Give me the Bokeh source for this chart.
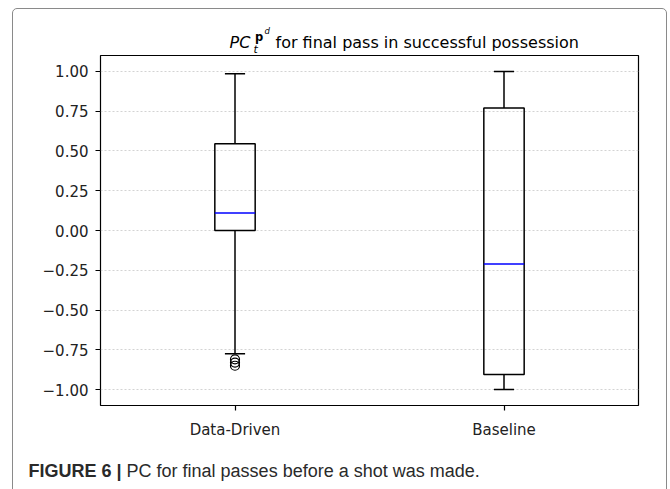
from bokeh.plotting import figure
from bokeh.models import FixedTicker, Range1d, Div
from bokeh.layouts import column
from bokeh.embed import file_html
from bokeh.resources import INLINE

# Box-plot summary for each method
categories = ["Data-Driven", "Baseline"]
positions = [1, 2]
q1 = [0.0, -0.905]
medians = [0.11, -0.21]
q3 = [0.545, 0.77]
whisker_low = [-0.775, -1.0]
whisker_high = [0.985, 1.0]

# Points beyond the whiskers
outlier_pos = [1, 1, 1]
outlier_values = [-0.81, -0.83, -0.85]

y_ticks = [-1.0, -0.75, -0.5, -0.25, 0.0, 0.25, 0.5, 0.75, 1.0]
y_tick_labels = ["\u22121.00", "\u22120.75", "\u22120.50", "\u22120.25",
                 "0.00", "0.25", "0.50", "0.75", "1.00"]

title_text = "for final pass in successful possession"
caption_head = "FIGURE 6 |"
caption_text = "PC for final passes before a shot was made."

BOX_W = 0.15
CAP_W = 0.075
INNER_W = 653

p = figure(width=INNER_W, height=392, output_backend="svg", toolbar_location=None,
           x_range=Range1d(0.5, 2.5), y_range=Range1d(-1.1, 1.1),
           min_border_left=87, min_border_right=28,
           min_border_top=2, min_border_bottom=40, margin=0)
p.background_fill_color = "white"
p.border_fill_color = "white"
p.outline_line_color = "black"
p.outline_line_width = 1.2
p.outline_line_alpha = 1.0

# axes
p.xaxis.ticker = FixedTicker(ticks=positions)
p.xaxis.major_label_overrides = {pos: name for pos, name in zip(positions, categories)}
p.yaxis.ticker = FixedTicker(ticks=y_ticks)
p.yaxis.major_label_overrides = {t: s for t, s in zip(y_ticks, y_tick_labels)}
for ax in (p.xaxis[0], p.yaxis[0]):
    ax.axis_line_color = None
    ax.minor_tick_line_color = None
    ax.major_tick_in = 0
    ax.major_tick_out = 5
    ax.major_tick_line_color = "black"
    ax.major_tick_line_width = 1.2
    ax.major_label_text_font = "DejaVu Sans"
    ax.major_label_text_font_size = "15px"
    ax.major_label_text_color = "#222222"
p.yaxis.major_label_standoff = 7
p.xaxis.major_label_standoff = 10

p.xgrid.visible = False
p.ygrid.grid_line_color = "#c8c8c8"
p.ygrid.grid_line_dash = "2 2"
p.ygrid.grid_line_width = 0.8

lefts = [x - BOX_W / 2 for x in positions]
rights = [x + BOX_W / 2 for x in positions]
cap_l = [x - CAP_W / 2 for x in positions]
cap_r = [x + CAP_W / 2 for x in positions]

# whiskers
p.segment(x0=positions, y0=q3, x1=positions, y1=whisker_high, line_color="black", line_width=1.5)
p.segment(x0=positions, y0=q1, x1=positions, y1=whisker_low, line_color="black", line_width=1.5)
# caps
p.segment(x0=cap_l, y0=whisker_high, x1=cap_r, y1=whisker_high, line_color="black", line_width=1.5)
p.segment(x0=cap_l, y0=whisker_low, x1=cap_r, y1=whisker_low, line_color="black", line_width=1.5)
# boxes
p.quad(left=lefts, right=rights, bottom=q1, top=q3, fill_color=None,
       line_color="black", line_width=1.5)
# medians
p.segment(x0=lefts, y0=medians, x1=rights, y1=medians, line_color="#0000ff", line_width=1.5)
# outliers
p.scatter(x=outlier_pos, y=outlier_values, marker="circle", size=9,
          fill_color=None, line_color="black", line_width=1.2)


def span(text, left, baseline, size, extra="", font="DejaVu Sans"):
    # absolutely placed text; with line-height 1 the baseline sits ~0.846em below the top
    top = baseline - 0.846 * size
    return (f'<span style="position:absolute;left:{left}px;top:{top:.1f}px;'
            f"font-family:'{font}';font-size:{size}px;line-height:1;white-space:nowrap;"
            f'color:#000;{extra}">{text}</span>')


# title: PC_t^{p^d} for final pass in successful possession
title_html = ('<div style="position:relative;width:653px;height:44px;">'
              + span("PC", 216.5, 39, 16, "font-style:italic;")
              + span("t", 240.5, 44, 11, "font-style:italic;")
              + span("p", 242.0, 32.5, 11.5, "font-weight:bold;")
              + span("d", 251.5, 25.5, 8.5, "font-style:italic;")
              + span(title_text, 262.5, 39, 16)
              + '</div>')
title_div = Div(text=title_html, width=INNER_W, height=44, margin=0)

caption_html = ('<div style="position:relative;width:653px;height:60px;">'
                + span(f"<b>{caption_head}</b> {caption_text}", 15.5, 32.5, 18,
                       "color:#2a2a2a;", "Liberation Sans")
                + '</div>')
caption_div = Div(text=caption_html, width=INNER_W, height=60, margin=0)

root = column(title_div, p, caption_div, spacing=0, margin=(8, 0, 0, 12),
              styles={"border": "1.5px solid #8a8a8a", "border-radius": "5px"})

open("out.html", "w").write(file_html(root, INLINE))
